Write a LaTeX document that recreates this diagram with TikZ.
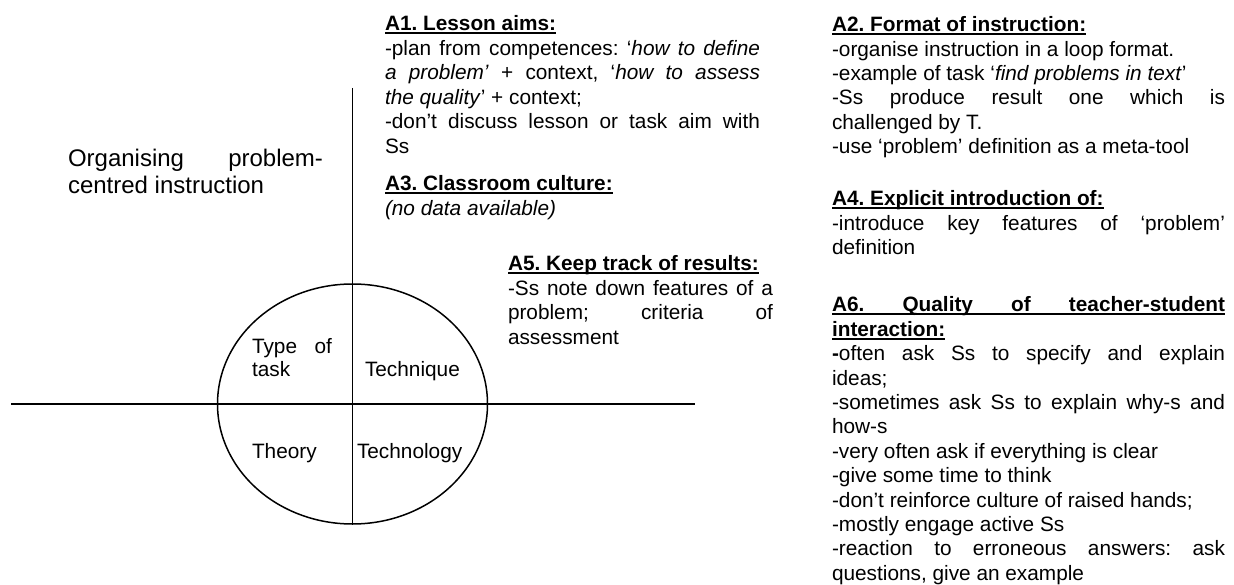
\documentclass[tikz,border=0pt]{standalone}
\usepackage{fontspec}
\setmainfont{Liberation Sans}
\usetikzlibrary{shapes.geometric}
\frenchspacing
\newcommand\jl[1]{\makebox[\hsize][s]{#1}}
\newcommand\ttl[1]{\setbox0=\hbox{\bfseries #1}\leavevmode\rlap{\rule[-3.2pt]{\wd0}{1.8pt}}\box0}
\newcommand\blk[3]{\vtop{\hsize=#1\parindent=0pt\parskip=0pt\frenchspacing\fontsize{20.8}{#2}\selectfont #3\par}}
\begin{document}
\begin{tikzpicture}[x=1pt,y=-1pt,
  lbl/.style={inner sep=0pt, outer sep=0pt, anchor=base west},
  ln/.style={line width=1.5pt, black}]
\useasboundingbox (0,0) rectangle (1234,585);
% diagram lines
\node[draw, ellipse, ln, minimum width=270pt, minimum height=240pt, inner sep=0pt] (ell) at (352.5,404) {};
\coordinate (vtop) at (352.5,88);
\coordinate (hl) at (11,404);
\coordinate (hr) at (695,404);
\draw[ln] (vtop) -- (ell.south);
\draw[ln] (hl) -- (hr);
% title
\node[lbl] (org) at (68,167) {\blk{255pt}{27pt}{\fontsize{24}{27}\selectfont\jl{Organising problem-}\par centred instruction}};
% ellipse labels
\node[lbl] (tt) at (252,353) {\blk{80pt}{23pt}{\jl{Type of}\par task}};
\node[lbl] (tq) at (365,376) {\blk{120pt}{23pt}{Technique}};
\node[lbl] (th) at (252,458) {\blk{100pt}{23pt}{Theory}};
\node[lbl] (tg) at (357,458) {\blk{120pt}{23pt}{Technology}};
% A1
\node[lbl] (a1) at (385,31) {\blk{375pt}{24.5pt}{%
\ttl{A1. Lesson aims:}\par
\jl{-plan from competences: ‘\textit{how to define}}\par
\jl{\textit{a problem’} + context, ‘\textit{how to assess}}\par
\textit{the quality}’ + context;\par
\jl{-don’t discuss lesson or task aim with}\par
Ss}};
% A3
\node[lbl] (a3) at (385,191) {\blk{375pt}{24.5pt}{%
\ttl{A3. Classroom culture:}\par
\textit{(no data available)}}};
% A5
\node[lbl] (a5) at (508,271) {\blk{265pt}{24.5pt}{%
\ttl{A5. Keep track of results:}\par
\jl{-Ss note down features of a}\par
\jl{problem; criteria of}\par
assessment}};
% A2
\node[lbl] (a2) at (832,32) {\blk{393pt}{24.3pt}{%
\ttl{A2. Format of instruction:}\par
-organise instruction in a loop format.\par
-example of task ‘\textit{find problems in text}’\par
\jl{-Ss produce result one which is}\par
challenged by T.\par
-use ‘problem’ definition as a meta-tool}};
% A4
\node[lbl] (a4) at (832,206) {\blk{393pt}{24.3pt}{%
\ttl{A4. Explicit introduction of:}\par
\jl{-introduce key features of ‘problem’}\par
definition}};
% A6
\node[lbl] (a6) at (832,312) {\blk{393pt}{24.4pt}{%
\ttl{\makebox[\hsize][s]{A6. Quality of teacher-student}}\par
\ttl{interaction:}\par
\jl{\textbf{-}often ask Ss to specify and explain}\par
ideas;\par
\jl{-sometimes ask Ss to explain why-s and}\par
how-s\par
-very often ask if everything is clear\par
-give some time to think\par
-don’t reinforce culture of raised hands;\par
-mostly engage active Ss\par
\jl{-reaction to erroneous answers: ask}\par
questions, give an example}};
\end{tikzpicture}
\end{document}
